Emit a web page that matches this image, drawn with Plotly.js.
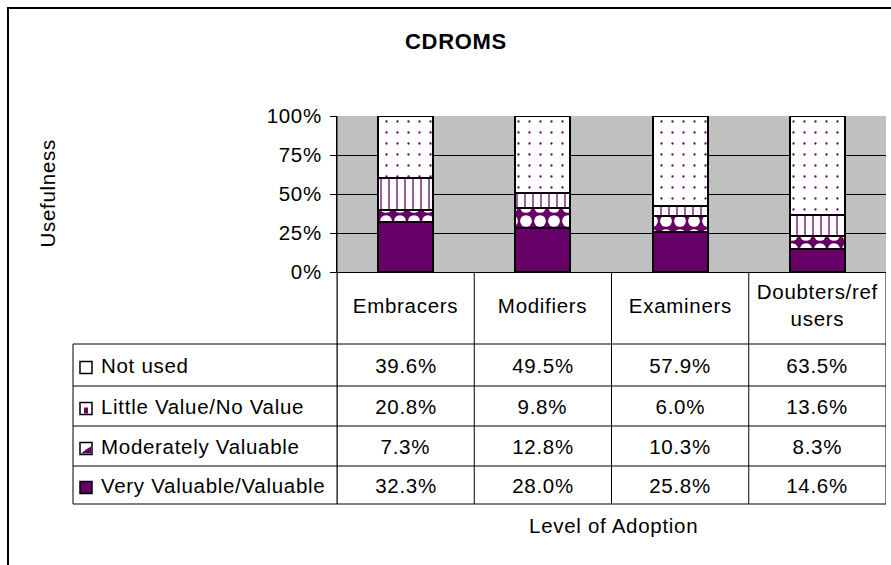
<!DOCTYPE html>
<html>
<head>
<meta charset="utf-8">
<script src="https://cdn.plot.ly/plotly-3.0.1.min.js"></script>
<style>html,body{margin:0;padding:0;background:#fff;}#chart{width:891px;height:565px;}#chart text{letter-spacing:0.7px;}</style>
</head>
<body>
<div id="chart"></div>
<script>
// ---- data ----
const categories = ["Embracers", "Modifiers", "Examiners", "Doubters/ref users"];
const headerLabels = ["Embracers", "Modifiers", "Examiners", "Doubters/ref<br>users"];
const seriesNames = ["Not used", "Little Value/No Value", "Moderately Valuable", "Very Valuable/Valuable"];
const notUsed = [39.6, 49.5, 57.9, 63.5];
const littleValue = [20.8, 9.8, 6.0, 13.6];
const moderatelyValuable = [7.3, 12.8, 10.3, 8.3];
const veryValuable = [32.3, 28.0, 25.8, 14.6];
const yTickVals = [0, 25, 50, 75, 100];
const yTickText = ["0%", "25%", "50%", "75%", "100%"];
const chartTitle = "CDROMS";
const yTitle = "Usefulness";
const xTitle = "Level of Adoption";

// ---- layout geometry (pixels) ----
const W = 891, H = 565;
const L = 337, R = 886, T = 116, B = 272;
const px = x => (x - L) / (R - L);
const py = y => (B - y) / (B - T);
const PURPLE = "#660066";
const FONT = "Liberation Sans, Arial, sans-serif";
const FS = 20.5;

const rowLines = [344, 386, 426, 466, 504];
const rowCenters = [365.5, 406.5, 446.5, 485.5];
const tableRows = [notUsed, littleValue, moderatelyValuable, veryValuable];

const outline = {color: "black", width: 2};
const traces = [
  {name: seriesNames[3], x: categories, y: veryValuable, type: "bar",
   marker: {color: PURPLE, line: outline}},
  {name: seriesNames[2], x: categories, y: moderatelyValuable, type: "bar",
   marker: {color: PURPLE, line: outline,
     pattern: {shape: ".", fillmode: "replace", bgcolor: PURPLE, fgcolor: "white", size: 14, solidity: 0.55}}},
  {name: seriesNames[1], x: categories, y: littleValue, type: "bar",
   marker: {color: "white", line: outline,
     pattern: {shape: "|", fillmode: "replace", bgcolor: "white", fgcolor: PURPLE, size: 8, solidity: 0.16}}},
  {name: seriesNames[0], x: categories, y: notUsed, type: "bar",
   marker: {color: "white", line: outline,
     pattern: {shape: ".", fillmode: "replace", bgcolor: "white", fgcolor: PURPLE, size: 11, solidity: 0.035}}}
].map(t => Object.assign(t, {hoverinfo: "skip", showlegend: false}));

const shapes = [];
const annotations = [];
const line = (x0, y0, x1, y1, w) => shapes.push({type: "line", xref: "paper", yref: "paper",
  x0, y0, x1, y1, line: {color: "black", width: w || 1}, layer: "above"});

// outer frame (left and top edges visible)
line(px(8), py(7), px(8), py(H + 5), 2);
line(px(7), py(8), px(W + 5), py(8), 2);

// table horizontal lines
rowLines.forEach(y => line(px(73), py(y), 1, py(y)));
// table vertical lines
line(px(73), py(rowLines[0]), px(73), py(rowLines[rowLines.length - 1]));
line(0, 1, 0, py(rowLines[rowLines.length - 1]));
for (let i = 0; i <= categories.length; i++) {
  const xv = i - 0.5;
  shapes.push({type: "line", xref: "x", yref: "paper", x0: xv, x1: xv, y0: 0, y1: py(rowLines[rowLines.length - 1]),
    line: {color: "black", width: 1}, layer: "above"});
}

const txtFont = {family: FONT, size: FS, color: "black"};
const ann = o => annotations.push(Object.assign({showarrow: false, font: txtFont, xanchor: "center", yanchor: "middle"}, o));

// header labels
categories.forEach((c, i) => ann({xref: "x", yref: "paper", x: c, y: py(305), text: headerLabels[i], align: "center"}));

// values
tableRows.forEach((arr, r) => arr.forEach((v, i) => ann({xref: "x", yref: "paper",
  x: categories[i], y: py(rowCenters[r]), text: v.toFixed(1) + "%"})));

// legend labels and keys
seriesNames.forEach((n, r) => {
  ann({xref: "paper", yref: "paper", x: px(99), y: py(rowCenters[r]), xanchor: "left", align: "left", text: n});
  const cy = rowCenters[r] + 2;
  const k = {x0: px(80), x1: px(92), y0: py(cy + 6), y1: py(cy - 6)};
  if (r === 1) {
    shapes.push({type: "rect", xref: "paper", yref: "paper", x0: px(84), x1: px(88), y0: py(cy + 5), y1: py(cy - 1),
      line: {width: 0}, fillcolor: PURPLE});
  }
  if (r === 2) {
    shapes.push({type: "path", xref: "paper", yref: "paper",
      path: `M ${px(81)} ${py(cy + 5)} L ${px(91)} ${py(cy + 5)} L ${px(91)} ${py(cy - 2)} L ${px(86)} ${py(cy + 1)} Z`,
      line: {width: 0}, fillcolor: PURPLE});
  }
  shapes.push(Object.assign({type: "rect", xref: "paper", yref: "paper",
    line: {color: "black", width: 1.5}, fillcolor: r === 3 ? PURPLE : "rgba(0,0,0,0)"}, k));
});

// axis titles
ann({xref: "paper", yref: "paper", x: px(47), y: py(194), text: yTitle, textangle: -90});
ann({xref: "paper", yref: "paper", x: px(613), y: py(525), text: xTitle});

const layout = {
  width: W, height: H,
  margin: {l: L, r: W - R, t: T, b: H - B, pad: 0},
  paper_bgcolor: "white",
  plot_bgcolor: "#C0C0C0",
  barmode: "stack",
  bargap: 0.6,
  title: {text: "<b>" + chartTitle + "</b>", x: 456 / W, xanchor: "center", xref: "container",
    y: 1 - 41 / H, yanchor: "middle", yref: "container", font: {family: FONT, size: 22, color: "black"}},
  font: {family: FONT, size: FS, color: "black"},
  xaxis: {range: [-0.5, categories.length - 0.5], showticklabels: false, ticks: "", showgrid: false,
    showline: true, linecolor: "black", linewidth: 1, zeroline: false, fixedrange: true},
  yaxis: {range: [0, 100], tickmode: "array", tickvals: yTickVals, ticktext: yTickText, ticks: "outside", ticklen: 6,
    ticklabelstandoff: 4,
    tickcolor: "black", showgrid: true, gridcolor: "black", gridwidth: 1, showline: true,
    linecolor: "black", linewidth: 1, zeroline: false, tickfont: txtFont, fixedrange: true},
  shapes, annotations,
  showlegend: false
};

Plotly.newPlot("chart", traces, layout, {staticPlot: true, displayModeBar: false});
</script>
</body>
</html>
